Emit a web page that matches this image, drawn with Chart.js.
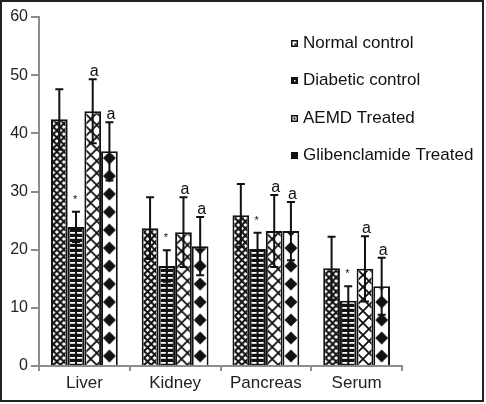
<!DOCTYPE html>
<html>
<head>
<meta charset="utf-8">
<script src="https://cdn.jsdelivr.net/npm/chart.js@4.4.1/dist/chart.umd.min.js"></script>
<style>
  html, body { margin: 0; padding: 0; background: #fff; }
  canvas { display: block; }
</style>
</head>
<body>
<canvas id="chart" width="486" height="404"></canvas>
<script>
// Values (mean and error, per organ)
const categories = ['Liver', 'Kidney', 'Pancreas', 'Serum'];
const seriesNames = ['Normal control', 'Diabetic control', 'AEMD Treated', 'Glibenclamide Treated'];
const normalControl = [42.4, 23.7, 25.9, 16.8];
const normalErr = [5.2, 5.3, 5.4, 5.4];
const diabeticControl = [23.9, 17.2, 20.1, 11.2];
const diabeticErr = [2.6, 2.7, 2.8, 2.5];
const aemdTreated = [43.8, 23.0, 23.2, 16.7];
const aemdErr = [5.5, 6.0, 6.2, 5.6];
const glibTreated = [36.9, 20.6, 23.2, 13.7];
const glibErr = [5.0, 5.0, 5.0, 4.9];
// significance marks above each series
const seriesMarks = ['', '*', 'a', 'a'];
const yTicks = [0, 10, 20, 30, 40, 50, 60];

const FONT = "'Liberation Sans', Arial, sans-serif";
const axisGray = '#8c8c8c';
const ink = '#111';

// small canvas tiles used as bar fills
function makeTile(w, h, draw) {
    const c = document.createElement('canvas');
    c.width = w;
    c.height = h;
    draw(c.getContext('2d'), w, h);
    return c;
}

function crossHatch(size, lw) {
    return makeTile(size, size, (g, w, h) => {
        g.fillStyle = '#fff';
        g.fillRect(0, 0, w, h);
        g.strokeStyle = ink;
        g.lineWidth = lw;
        g.beginPath();
        g.moveTo(-1, -1); g.lineTo(w + 1, h + 1);
        g.moveTo(-1, h + 1); g.lineTo(w + 1, -1);
        g.stroke();
    });
}

const tiles = [
    crossHatch(7, 2),
    makeTile(40, 5, (g, w, h) => {
        g.fillStyle = ink;
        g.fillRect(0, 0, w, h);
        g.fillStyle = '#fff';
        g.fillRect(14, 2, 5, 1.8);
        g.fillRect(21, 2, 5, 1.8);
    }),
    crossHatch(12, 1.8),
    makeTile(40, 18, (g, w, h) => {
        g.fillStyle = '#fff';
        g.fillRect(0, 0, w, h);
        g.fillStyle = ink;
        g.beginPath();
        g.moveTo(20, 2.5); g.lineTo(26.5, 9); g.lineTo(20, 15.5); g.lineTo(13.5, 9);
        g.closePath();
        g.fill();
    })
];

const ctx0 = document.getElementById('chart').getContext('2d');
const patterns = tiles.map(t => ctx0.createPattern(t, 'repeat'));

const seriesValues = [normalControl, diabeticControl, aemdTreated, glibTreated];
const seriesErrors = [normalErr, diabeticErr, aemdErr, glibErr];

const datasets = seriesNames.map((name, i) => ({
    label: name,
    data: seriesValues[i],
    errors: seriesErrors[i],
    mark: seriesMarks[i],
    backgroundColor: '#fff',
    borderColor: ink,
    borderWidth: 2,
    barPercentage: 1,
    categoryPercentage: 0.736
}));

// fills, error bars and letters drawn on top of the bars
const barExtras = {
    id: 'barExtras',
    afterDatasetsDraw(chart) {
        const ctx = chart.ctx;
        const yScale = chart.scales.y;
        chart.data.datasets.forEach((ds, i) => {
            const meta = chart.getDatasetMeta(i);
            meta.data.forEach((bar, j) => {
                const { x, y, base, width } = bar.getProps(['x', 'y', 'base', 'width'], true);
                const left = x - width / 2;

                // pattern inside the border
                ctx.save();
                ctx.beginPath();
                ctx.rect(left + 2, y + 2, width - 4, base - y - 2);
                ctx.clip();
                ctx.translate(x - 20, base);
                ctx.fillStyle = patterns[i];
                ctx.fillRect(-40, y - base - 40, 120, base - y + 80);
                ctx.restore();

                // error bar
                const v = ds.data[j];
                const e = ds.errors[j];
                const yHi = yScale.getPixelForValue(v + e);
                const yLo = yScale.getPixelForValue(v - e);
                ctx.save();
                ctx.strokeStyle = ink;
                ctx.lineWidth = 2;
                ctx.beginPath();
                ctx.moveTo(x, yHi); ctx.lineTo(x, yLo);
                ctx.moveTo(x - 4, yHi); ctx.lineTo(x + 4, yHi);
                ctx.moveTo(x - 4, yLo); ctx.lineTo(x + 4, yLo);
                ctx.stroke();

                // significance mark
                if (ds.mark) {
                    ctx.fillStyle = ink;
                    ctx.textAlign = 'center';
                    ctx.textBaseline = 'alphabetic';
                    if (ds.mark === '*') {
                        ctx.font = '11px ' + FONT;
                        ctx.fillText('*', x - 1, yHi - 9);
                    } else {
                        ctx.font = '16px ' + FONT;
                        ctx.fillText(ds.mark, x + 1.5, yHi - 3);
                    }
                }
                ctx.restore();
            });
        });
    },
    afterDraw(chart) {
        const ctx = chart.ctx;
        ctx.save();
        // legend inside the plot, upper right
        const lx = 291;
        const rows = [43, 80, 118, 155];
        ctx.font = '17px ' + FONT;
        ctx.textBaseline = 'middle';
        ctx.textAlign = 'left';
        chart.data.datasets.forEach((ds, i) => {
            const cy = rows[i];
            const by = cy - 3;
            ctx.fillStyle = ink;
            ctx.fillRect(lx, by, 7, 7);
            if (i === 0) {
                ctx.fillStyle = '#fff';
                ctx.fillRect(lx + 1.5, by + 1.5, 4, 4);
                ctx.fillStyle = ink;
                ctx.fillRect(lx + 3.5, by + 3.5, 2, 2);
            } else if (i === 1) {
                ctx.fillStyle = '#fff';
                ctx.fillRect(lx + 3, by + 3, 1.5, 1.5);
            } else if (i === 2) {
                ctx.fillStyle = '#fff';
                ctx.fillRect(lx + 1.5, by + 1.5, 4, 4);
                ctx.fillStyle = ink;
                ctx.fillRect(lx + 2.5, by + 2.5, 2, 2);
            }
            ctx.fillStyle = ink;
            ctx.fillText(ds.label, lx + 12, cy);
        });
        // outer frame
        ctx.strokeStyle = '#222';
        ctx.lineWidth = 2;
        ctx.strokeRect(1, 1, 482, 400);
        ctx.restore();
    }
};

new Chart(ctx0, {
    type: 'bar',
    data: { labels: categories, datasets: datasets },
    options: {
        responsive: false,
        animation: false,
        devicePixelRatio: 1,
        layout: { padding: { top: 17, right: 84, left: 0, bottom: 0 } },
        plugins: {
            legend: { display: false },
            tooltip: { enabled: false }
        },
        scales: {
            x: {
                offset: true,
                grid: { offset: true, drawOnChartArea: false, tickLength: 5, color: axisGray, lineWidth: 2 },
                border: { color: axisGray, width: 2 },
                ticks: { font: { family: FONT, size: 17 }, color: '#222', padding: 2 },
                afterFit: s => { s.height = 38; }
            },
            y: {
                min: 0,
                max: 60,
                afterBuildTicks: s => { s.ticks = yTicks.map(v => ({ value: v })); },
                grid: { drawOnChartArea: false, tickLength: 8, color: axisGray, lineWidth: 2 },
                border: { color: axisGray, width: 2 },
                ticks: { font: { family: FONT, size: 16 }, color: '#222', padding: 3 },
                afterFit: s => { s.width = 39; }
            }
        }
    },
    plugins: [barExtras]
});
</script>
</body>
</html>
